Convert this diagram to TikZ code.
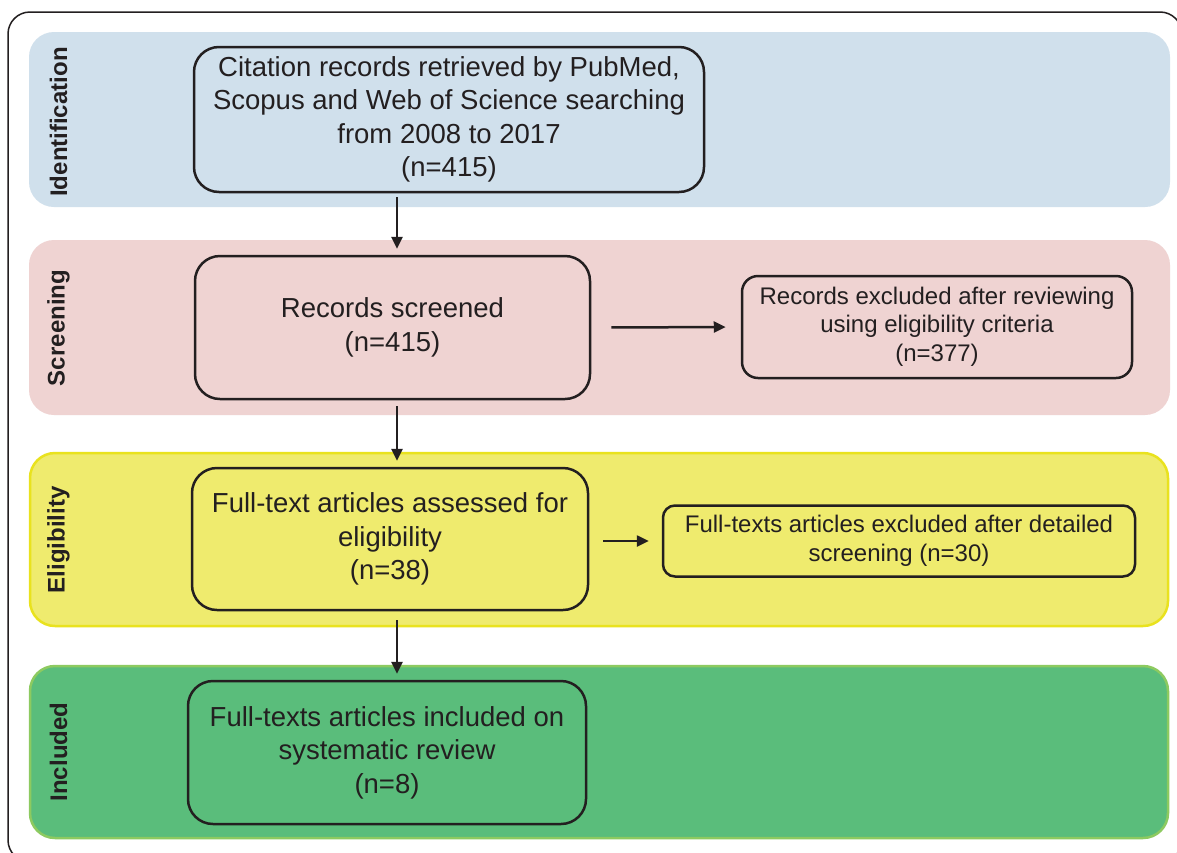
\documentclass[tikz,border=0pt]{standalone}
\usepackage{fontspec}
\setmainfont{Liberation Sans}
\usetikzlibrary{arrows.meta}
\definecolor{txt}{HTML}{231F20}
\definecolor{bandblue}{RGB}{208,224,236}
\definecolor{bandpink}{RGB}{239,211,210}
\definecolor{bandyellow}{RGB}{239,235,110}
\definecolor{bandyellowline}{RGB}{233,226,30}
\definecolor{bandgreen}{RGB}{90,189,123}
\definecolor{bandgreenline}{RGB}{141,202,96}
\tikzset{
  band/.style={rounded corners=25pt},
  bandlabel/.style={rotate=90, text=txt, inner sep=0pt, font=\fontsize{24}{28}\selectfont\bfseries},
  bigbox/.style={draw=txt, line width=2.5pt, rounded corners=25pt, inner sep=0pt, align=center, text=txt,
    font=\fontsize{27.5}{33.5}\selectfont},
  smallbox/.style={draw=txt, line width=2.5pt, rounded corners=16pt, inner sep=0pt, align=center, text=txt,
    font=\fontsize{24}{28.5}\selectfont},
  arr/.style={draw=txt, line width=2.5pt, -{Triangle[length=12pt,width=11pt]}},
}
\begin{document}
\begin{tikzpicture}[x=1pt,y=-1pt]
\clip (0,0) rectangle (1177,852);
\fill[white] (0,0) rectangle (1177,852);
% outer frame
\draw[draw=txt, line width=1.5pt, rounded corners=22pt] (8,12) rectangle (1182,862);
% bands
\fill[band, bandblue] (29,32) rectangle (1170,207);
\fill[band, bandpink] (29,240) rectangle (1170,415);
\filldraw[band, fill=bandyellow, draw=bandyellowline, line width=2.5pt] (30,453) rectangle (1168,626);
\filldraw[band, fill=bandgreen, draw=bandgreenline, line width=2.5pt] (30,666) rectangle (1168,838);
% band labels
\node[bandlabel] (lid) at (58.5,122) {Identification};
\node[bandlabel] (lsc) at (58.5,328) {Screening};
\node[bandlabel] (lel) at (58.5,540) {Eligibility};
\node[bandlabel] (lin) at (58.5,752) {Included};
% boxes
\node[bigbox, minimum width=510pt, minimum height=145pt] (cit) at (449,119.5)
  {Citation records retrieved by PubMed,\\Scopus and Web of Science searching\\from 2008 to 2017\\(n=415)};
\node[bigbox, minimum width=395pt, minimum height=143pt] (scr) at (392.5,327.5)
  {Records screened\\(n=415)};
\node[smallbox, minimum width=390pt, minimum height=102pt] (exa) at (937,327)
  {\raisebox{-3pt}{\begin{tabular}{@{}c@{}}Records excluded after reviewing\\using eligibility criteria\\(n=377)\end{tabular}}};
\node[bigbox, minimum width=396pt, minimum height=142pt] (ft) at (390,539)
  {Full-text articles assessed for\\eligibility\\(n=38)};
\node[smallbox, rounded corners=12pt, minimum width=472pt, minimum height=71pt] (exb) at (899,541)
  {Full-texts articles excluded after detailed\\screening (n=30)};
\node[bigbox, minimum width=398pt, minimum height=143pt] (inc) at (387,752.5)
  {Full-texts articles included on\\systematic review\\(n=8)};
% arrows
\coordinate (ax) at (397,0);
\draw[arr, shorten <=4pt, shorten >=6pt] (cit.south -| ax) -- (scr.north -| ax);
\draw[arr, shorten <=6pt, shorten >=6pt] (scr.south -| ax) -- (ft.north -| ax);
\draw[arr, shorten <=9pt, shorten >=6pt] (ft.south -| ax) -- (inc.north -| ax);
\draw[arr, shorten <=20pt, shorten >=15pt] (scr.east) -- (exa.west);
\draw[arr, shorten <=14pt, shorten >=13pt] (ft.east |- exb.west) -- (exb.west);
\end{tikzpicture}
\end{document}
